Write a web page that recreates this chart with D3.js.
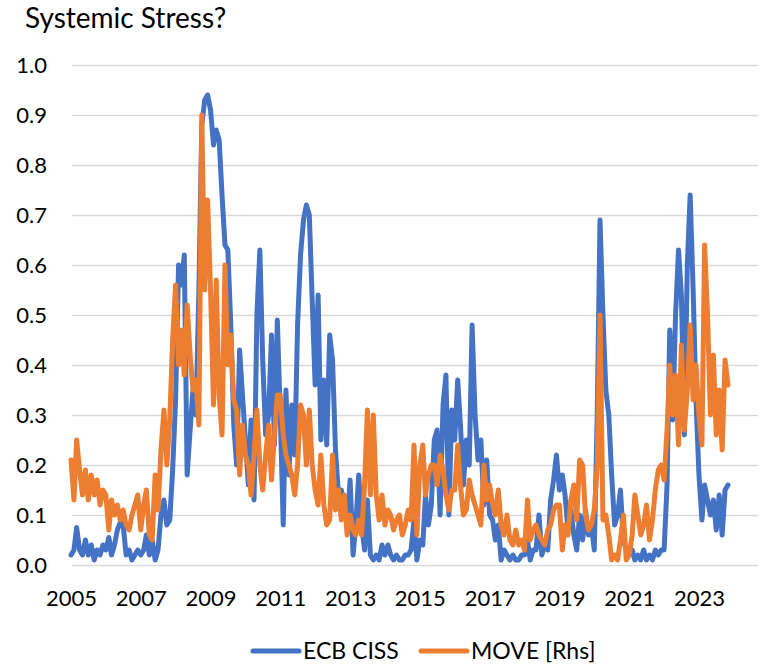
<!DOCTYPE html>
<html>
<head>
<meta charset="utf-8">
<script src="https://cdn.jsdelivr.net/npm/d3@7"></script>
<style>
  body { margin: 0; background: #fff; }
  text { font-family: Lato, "Open Sans", sans-serif; fill: #000; }
</style>
</head>
<body>
<div id="chart"></div>
<script>
// monthly readings, Jan 2005 .. Nov 2023
const startMonth = new Date(2005, 0, 1);

const cissValues = [
  0.02, 0.03, 0.075, 0.03, 0.02, 0.05, 0.02, 0.04, 0.01, 0.03, 0.02, 0.04,
  0.03, 0.055, 0.02, 0.04, 0.07, 0.085, 0.08, 0.02, 0.03, 0.01, 0.02, 0.03,
  0.02, 0.03, 0.06, 0.02, 0.05, 0.01, 0.03, 0.1, 0.13, 0.08, 0.09, 0.19,
  0.33, 0.6, 0.56, 0.62, 0.18, 0.27, 0.35, 0.3, 0.55, 0.88, 0.93, 0.94,
  0.91, 0.84, 0.87, 0.85, 0.74, 0.64, 0.63, 0.48, 0.28, 0.2, 0.43, 0.34,
  0.25, 0.16, 0.29, 0.13, 0.5, 0.63, 0.41, 0.26, 0.3, 0.46, 0.24, 0.49,
  0.3, 0.08, 0.35, 0.18, 0.32, 0.22, 0.48, 0.62, 0.69, 0.72, 0.7, 0.53,
  0.36, 0.54, 0.25, 0.37, 0.24, 0.46, 0.41, 0.23, 0.14, 0.15, 0.12, 0.08,
  0.17, 0.02, 0.08, 0.18, 0.08, 0.03, 0.13, 0.02, 0.01, 0.02, 0.01, 0.04,
  0.02, 0.04, 0.02, 0.01, 0.02, 0.01, 0.01, 0.02, 0.02, 0.03, 0.09, 0.01,
  0.05, 0.04, 0.14, 0.08, 0.12, 0.25, 0.27, 0.1, 0.32, 0.38, 0.1, 0.31,
  0.25, 0.37, 0.28, 0.16, 0.25, 0.2, 0.48, 0.3, 0.21, 0.25, 0.12, 0.21,
  0.1, 0.09, 0.05, 0.08, 0.01, 0.03, 0.02, 0.01, 0.02, 0.01, 0.01, 0.02,
  0.02, 0.05, 0.01, 0.03, 0.03, 0.1, 0.02, 0.04, 0.03, 0.13, 0.17, 0.22,
  0.15, 0.18, 0.14, 0.07, 0.11, 0.06, 0.03, 0.1, 0.05, 0.11, 0.06, 0.08,
  0.03, 0.3, 0.69, 0.5, 0.35, 0.3, 0.18, 0.08, 0.1, 0.15, 0.05, 0.03,
  0.02, 0.03, 0.01, 0.02, 0.01, 0.03, 0.01, 0.02, 0.01, 0.03, 0.02, 0.03,
  0.03, 0.16, 0.47, 0.29, 0.5, 0.63, 0.54, 0.26, 0.6, 0.74, 0.55, 0.33,
  0.18, 0.09, 0.16, 0.13, 0.1, 0.13, 0.07, 0.14, 0.06, 0.15, 0.16
];

const moveValues = [
  0.21, 0.13, 0.25, 0.19, 0.14, 0.19, 0.13, 0.18, 0.14, 0.17, 0.12, 0.15,
  0.14, 0.07, 0.13, 0.1, 0.12, 0.09, 0.11, 0.08, 0.07, 0.1, 0.12, 0.14,
  0.07, 0.12, 0.15, 0.06, 0.05, 0.18, 0.11, 0.23, 0.31, 0.2, 0.29, 0.45,
  0.56, 0.4, 0.47, 0.38, 0.52, 0.42, 0.35, 0.37, 0.28, 0.9, 0.55, 0.73,
  0.55, 0.32, 0.57, 0.34, 0.26, 0.6, 0.4, 0.46, 0.33, 0.31, 0.18, 0.28,
  0.22, 0.2, 0.14, 0.22, 0.31, 0.2, 0.15, 0.22, 0.28, 0.17, 0.26, 0.34,
  0.34, 0.26, 0.22, 0.2, 0.18, 0.14, 0.2, 0.32, 0.3, 0.2, 0.31, 0.2,
  0.15, 0.12, 0.22, 0.12, 0.08, 0.09, 0.22, 0.11, 0.15, 0.09, 0.14, 0.06,
  0.1, 0.07, 0.06, 0.09, 0.06, 0.16, 0.31, 0.14, 0.3, 0.14, 0.09, 0.14,
  0.08, 0.11, 0.1, 0.07, 0.09, 0.1, 0.06, 0.08, 0.11, 0.09, 0.24, 0.06,
  0.2, 0.24, 0.14, 0.18, 0.2, 0.2, 0.16, 0.22, 0.19, 0.14, 0.11, 0.15,
  0.15, 0.24, 0.16, 0.1, 0.11, 0.17, 0.14, 0.12, 0.1, 0.08, 0.2, 0.13,
  0.16, 0.12, 0.1, 0.15, 0.08, 0.06, 0.1, 0.05, 0.04, 0.07, 0.04, 0.05,
  0.03, 0.13, 0.05, 0.07, 0.08, 0.06, 0.05, 0.04, 0.07, 0.08, 0.11, 0.12,
  0.12, 0.03, 0.08, 0.06, 0.13, 0.16, 0.09, 0.21, 0.2, 0.1, 0.07, 0.08,
  0.11, 0.2, 0.5, 0.09, 0.1, 0.06, 0.01, 0.02, 0.01, 0.05, 0.1, 0.01,
  0.02, 0.06, 0.14, 0.1, 0.06, 0.08, 0.12, 0.05, 0.09, 0.15, 0.19, 0.2,
  0.17, 0.27, 0.4, 0.3, 0.38, 0.24, 0.44, 0.27, 0.35, 0.48, 0.33, 0.4,
  0.3, 0.24, 0.64, 0.5, 0.3, 0.42, 0.26, 0.35, 0.23, 0.41, 0.36
];

const seriesNames = ["ECB CISS", "MOVE [Rhs]"];
const yearTicks = [2005, 2007, 2009, 2011, 2013, 2015, 2017, 2019, 2021, 2023];
const yTicks = [0, 0.1, 0.2, 0.3, 0.4, 0.5, 0.6, 0.7, 0.8, 0.9, 1.0];

const width = 761, height = 665;
const colors = ["#4472C4", "#ED7D31"];

const svg = d3.select("#chart").append("svg")
    .attr("width", width)
    .attr("height", height);

const x = d3.scaleTime()
    .domain([startMonth, new Date(2024, 9, 1)])
    .range([71, 760]);

const y = d3.scaleLinear()
    .domain([0, 1])
    .range([565, 65]);

// gridlines + left labels
const yAxis = svg.append("g")
    .attr("transform", "translate(72,0)")
    .call(d3.axisLeft(y).tickValues(yTicks).tickFormat(d3.format(".1f")).tickSize(-(758 - 72)).tickPadding(25));
yAxis.select(".domain").remove();
yAxis.selectAll("line").attr("stroke", "#D9D9D9").attr("stroke-width", 1.3);
yAxis.selectAll("text").style("font-size", "22px").attr("dy", "0.36em");

const xAxis = svg.append("g")
    .attr("transform", "translate(0,565)")
    .call(d3.axisBottom(x).tickValues(yearTicks.map(yr => new Date(yr, 0, 1))).tickFormat(d3.timeFormat("%Y")).tickSize(0).tickPadding(25));
xAxis.select(".domain").remove();
xAxis.selectAll("text").style("font-size", "22px");

// lines
const line = d3.line()
    .x((d, i) => x(d3.timeMonth.offset(startMonth, i)))
    .y(d => y(d));

[cissValues, moveValues].forEach((vals, k) => {
  svg.append("path")
      .datum(vals)
      .attr("fill", "none")
      .attr("stroke", colors[k])
      .attr("stroke-width", 5)
      .attr("stroke-linejoin", "round")
      .attr("stroke-linecap", "round")
      .attr("d", line);
});

// title
svg.append("text")
    .attr("x", 25)
    .attr("y", 28)
    .style("font-size", "28px")
    .text("Systemic Stress?");

// legend
const legendX = [253, 421];
seriesNames.forEach((name, k) => {
  const g = svg.append("g").attr("transform", `translate(${legendX[k]},651)`);
  g.append("line")
      .attr("x1", 0).attr("x2", 46)
      .attr("stroke", colors[k])
      .attr("stroke-width", 5)
      .attr("stroke-linecap", "round");
  g.append("text")
      .attr("x", 50)
      .attr("dy", "0.36em")
      .style("font-size", "23px")
      .text(name);
});
</script>
</body>
</html>
